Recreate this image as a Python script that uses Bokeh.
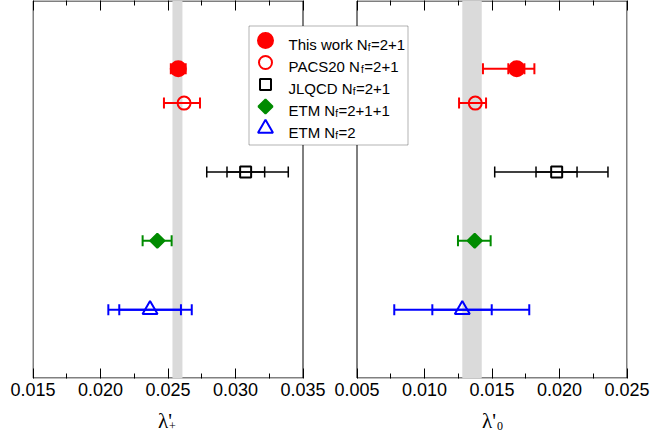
import numpy as np
from bokeh.plotting import figure
from bokeh.layouts import column
from bokeh.models import (Range1d, FixedTicker, LinearAxis, ColumnDataSource, Whisker,
                          TeeHead, BoxAnnotation, Label)
from bokeh.core.properties import value
from bokeh.embed import file_html
from bokeh.resources import INLINE

# ---------------- data ----------------
NAMES = ["This work", "PACS20", "JLQCD", "ETM", "ETM"]
NF = ["2+1", "2+1", "2+1", "2+1+1", "2"]
Y_POS = [4.5, 4.0, 3.0, 2.0, 1.0]

# lambda'_+
LP_VAL = [0.02576, 0.02619, 0.03075, 0.02421, 0.02367]
LP_LO = [0.02521, 0.02470, 0.02787, 0.02312, 0.02058]
LP_HI = [0.02631, 0.02737, 0.03391, 0.02527, 0.02676]
LP_STAT_LO = [None, None, 0.02937, None, 0.02139]
LP_STAT_HI = [None, None, 0.03216, None, 0.02596]
BAND_LP = (0.02533, 0.02607)

# lambda'_0
L0_VAL = [0.01683, 0.01376, 0.01979, 0.01372, 0.01280]
L0_LO = [0.01433, 0.01256, 0.01520, 0.01248, 0.00776]
L0_HI = [0.01814, 0.01456, 0.02359, 0.01490, 0.01776]
L0_STAT_LO = [0.01621, None, 0.01826, None, 0.01058]
L0_STAT_HI = [0.01740, None, 0.02130, None, 0.01498]
BAND_L0 = (0.01280, 0.01424)

XL_LIM = (0.015, 0.035)
X0_LIM = (0.005, 0.025)
XL_TICKS = [0.015, 0.020, 0.025, 0.030, 0.035]
XL_MINOR = [0.0175, 0.0225, 0.0275, 0.0325]
XL_LABELS = ["0.015", "0.020", "0.025", "0.030", "0.035"]
X0_TICKS = [0.005, 0.010, 0.015, 0.020, 0.025]
X0_MINOR = [0.0075, 0.0125, 0.0175, 0.0225]
X0_LABELS = ["0.005", "0.010", "0.015", "0.020", "0.025"]
Y_LIM = (0.0, 5.49)
TITLES = ["λ'", "λ'"]
TITLE_SUBS = ["+", "0"]

# ---------------- styles ----------------
COLORS = ["#ff0000", "#ff0000", "#000000", "#008b00", "#0000ff"]
MARKERS = ["circle", "circle", "square", "square", "triangle"]
FILLED = [True, False, False, True, False]
SIZES = [15, 13, 11, 10, 15]
ANGLES = [0, 0, 0, np.pi / 4, 0]
ERR_W = [2, 2, 1.5, 2, 2]

W = 652
BL, BR, BT, BB = 32, 25, 0, 25
FW, FH = W - BL - BR, 378                  # 595 x 378
H1 = FH + BT + BB                          # 403
H2 = 30                                    # title strip
GAP = 0.004                                # gap between panels in x units
SPAN = (XL_LIM[1] - XL_LIM[0]) + GAP + (X0_LIM[1] - X0_LIM[0])
PPU = (FW - 1) / SPAN
OFFSET = XL_LIM[1] + GAP - X0_LIM[0]       # right-panel value -> main coordinate
X_START = XL_LIM[0] - 0.5 / PPU
X_END = X_START + FW / PPU
PPU_Y = FH / (Y_LIM[1] - Y_LIM[0])

p = figure(width=W, height=H1, output_backend="svg", toolbar_location=None,
           x_range=Range1d(X_START, X_END), y_range=Range1d(*Y_LIM),
           y_axis_location=None, min_border_left=BL, min_border_right=BR,
           min_border_top=BT, min_border_bottom=BB)
p.extra_x_ranges = {"r": Range1d(X_START - OFFSET, X_END - OFFSET)}
p.xgrid.visible = False
p.ygrid.visible = False
p.outline_line_color = None
p.background_fill_color = "white"
p.border_fill_color = "white"

# ticks (right panel expressed in main coordinates)
all_ticks = list(XL_TICKS) + [t + OFFSET for t in X0_TICKS]
all_minor = list(XL_MINOR) + [t + OFFSET for t in X0_MINOR]
all_labels = XL_LABELS + X0_LABELS
ticker = FixedTicker(ticks=all_ticks, minor_ticks=all_minor)

ax = p.xaxis[0]
ax.ticker = ticker
ax.major_label_overrides = {t: l for t, l in zip(all_ticks, all_labels)}
ax.axis_line_color = None
ax.major_tick_in = 10
ax.major_tick_out = 0
ax.minor_tick_in = 5
ax.minor_tick_out = 0
ax.major_tick_line_color = "black"
ax.minor_tick_line_color = "black"
ax.major_label_text_font = "Liberation Sans"
ax.major_label_text_font_size = "18px"
ax.major_label_text_color = "black"
ax.major_label_standoff = 4

top = LinearAxis(ticker=ticker, axis_line_color=None, major_tick_in=10, major_tick_out=0,
                 minor_tick_in=5, minor_tick_out=0, major_label_text_font_size="0px",
                 major_label_text_color=None, major_label_standoff=0,
                 major_tick_line_color="black", minor_tick_line_color="black")
p.add_layout(top, "above")

# grey bands
p.add_layout(BoxAnnotation(left=BAND_LP[0], right=BAND_LP[1], fill_color="#dadada",
                           fill_alpha=1, line_color=None, level="underlay"))
p.add_layout(BoxAnnotation(left=BAND_L0[0], right=BAND_L0[1], fill_color="#dadada",
                           fill_alpha=1, line_color=None, level="underlay", x_range_name="r"))

# panel frames
yb = Y_LIM[0] + 0.5 / PPU_Y
yt = Y_LIM[1] - 0.5 / PPU_Y
p.quad(left=[XL_LIM[0]], right=[XL_LIM[1]], bottom=[yb], top=[yt], level="underlay",
       fill_color=None, line_color="black", line_width=1)
p.quad(left=[X0_LIM[0]], right=[X0_LIM[1]], bottom=[yb], top=[yt], level="underlay",
       fill_color=None, line_color="black", line_width=1, x_range_name="r")

# legend box (screen px relative to the frame, y upward from frame bottom)
LEG_L, LEG_R, LEG_T, LEG_B = 216, 375, 25, 144     # left/right from frame left, top/bottom from frame top
p.add_layout(BoxAnnotation(left=LEG_L + 0.5, right=LEG_R + 0.5,
                           top=FH - LEG_T - 0.5, bottom=FH - LEG_B - 0.5,
                           left_units="screen", right_units="screen",
                           top_units="screen", bottom_units="screen",
                           fill_color="white", fill_alpha=1, line_color="black",
                           line_width=1, level="underlay"))


def whisker(y, lo, hi, color, lw, rname):
    src = ColumnDataSource(dict(y=[y], lo=[lo], hi=[hi]))
    kw = dict(source=src, base="y", lower="lo", upper="hi", dimension="width",
              line_color=color, line_width=lw, level="underlay",
              upper_head=TeeHead(size=11, line_color=color, line_width=lw),
              lower_head=TeeHead(size=11, line_color=color, line_width=lw))
    if rname:
        kw["x_range_name"] = rname
    p.add_layout(Whisker(**kw))


def marker(i, x, y, rname=None):
    c = COLORS[i]
    kw = dict(x=[x], y=[y], marker=MARKERS[i], size=SIZES[i], angle=ANGLES[i],
              line_color=c, line_width=2, fill_color=c if FILLED[i] else None)
    if rname:
        kw["x_range_name"] = rname
    return p.scatter(**kw)


panels = [(LP_VAL, LP_LO, LP_HI, LP_STAT_LO, LP_STAT_HI, None),
          (L0_VAL, L0_LO, L0_HI, L0_STAT_LO, L0_STAT_HI, "r")]
for val, lo, hi, slo, shi, rname in panels:
    for i in range(len(NAMES)):
        whisker(Y_POS[i], lo[i], hi[i], COLORS[i], ERR_W[i], rname)
        if slo[i] is not None:
            whisker(Y_POS[i], slo[i], shi[i], COLORS[i], ERR_W[i], rname)
        marker(i, val[i], Y_POS[i], rname)

# legend entries
ROW0, ROW_PITCH, MARK_X, TEXT_X = 40, 22, 233, 256   # px (frame-relative)
ARIAL = {'T': 611, 'h': 556, 'i': 222, 's': 500, ' ': 278, 'w': 722, 'o': 556, 'r': 333,
         'k': 500, 'N': 722, 'P': 667, 'A': 667, 'C': 722, 'S': 667, '2': 556, '0': 556,
         'J': 500, 'L': 556, 'Q': 778, 'D': 722, 'E': 667, 'M': 833, '=': 584, '+': 584,
         '1': 556, 'f': 278}


def tw(s, size):
    return sum(ARIAL.get(ch, 556) for ch in s) * size / 1000.0


FS, FSS = 15, 10
for i in range(len(NAMES)):
    cy = ROW0 + i * ROW_PITCH
    marker(i, X_START + MARK_X / PPU, Y_LIM[1] - cy / PPU_Y)
    base = FH - (cy + 4)
    pre = NAMES[i] + " N"
    suf = "=" + NF[i]
    x1 = TEXT_X + tw(pre, FS)
    x2 = x1 + tw("f", FSS) + 0.5
    for txt, xx, yy, fs in [(pre, TEXT_X, base, FS), ("f", x1, base - 3, FSS),
                            (suf, x2, base, FS)]:
        p.add_layout(Label(x=xx, y=yy, x_units="screen", y_units="screen", text=txt,
                           text_font="Liberation Sans", text_font_size=f"{fs}px",
                           text_color="black", text_baseline="alphabetic",
                           text_align="left"))

# title strip with the axis titles
p2 = figure(width=W, height=H2, output_backend="svg", toolbar_location=None,
            x_range=p.x_range, y_range=Range1d(H2, 0), x_axis_location=None,
            y_axis_location=None, min_border_left=BL, min_border_right=BR,
            min_border_top=0, min_border_bottom=0)
p2.extra_x_ranges = {"r": p.extra_x_ranges["r"]}
p2.xgrid.visible = False
p2.ygrid.visible = False
p2.outline_line_color = None
p2.background_fill_color = "white"
p2.border_fill_color = "white"

centers = [((XL_LIM[0] + XL_LIM[1]) / 2, "default", 1),
           ((X0_LIM[0] + X0_LIM[1]) / 2, "r", 5)]
for (xc, rname, sub_off), title, sub in zip(centers, TITLES, TITLE_SUBS):
    p2.text(x=[xc], y=[17], text=[title], x_offset=-10, x_range_name=rname,
            text_font=value("Liberation Serif"), text_font_size="21px",
            text_color="black", text_baseline="alphabetic")
    p2.text(x=[xc], y=[22], text=[sub], x_offset=sub_off, x_range_name=rname,
            text_font=value("Liberation Serif"), text_font_size="12px",
            text_color="black", text_baseline="alphabetic")

layout = column(p, p2, spacing=0)
open("out.html", "w").write(file_html(layout, INLINE))
